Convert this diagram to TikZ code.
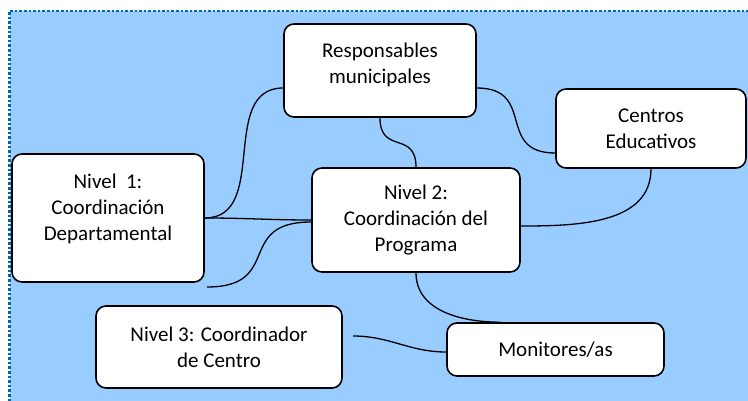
\documentclass[tikz,border=0pt]{standalone}
\usepackage{fontspec}
\setmainfont{Carlito}
\definecolor{fondo}{RGB}{153,204,255}
\definecolor{borde}{RGB}{0,102,170}

\begin{document}
\begin{tikzpicture}[
        x=1pt, y=-1pt,
        every node/.style={font=\fontsize{21pt}{26pt}\selectfont, align=center},
        caja/.style={rectangle, rounded corners=10pt, draw=black, line width=1.6pt, fill=white, inner sep=0pt},
        conexion/.style={draw, line width=1.3pt}
        ]
        \useasboundingbox (0,0) rectangle (748,401);
        \clip (0,0) rectangle (748,401);
        \fill[fondo] (9.5,11) rectangle (760,415);
        \draw[borde, line width=2.6pt, dash pattern=on 2.6pt off 2pt] (9.5,415) -- (9.5,11) -- (760,11);

        \node [caja, minimum width=192pt, minimum height=93pt] (resp) at (380,70.5) {Responsables\\municipales\rule[-15pt]{0pt}{1pt}};
        \node [caja, minimum width=190pt, minimum height=79pt] (cent) at (651,128.5) {Centros\\Educativos};
        \node [caja, minimum width=192pt, minimum height=128pt] (niv1) at (108,218) {Nivel\ \ 1:\\Coordinación\\Departamental\rule[-21pt]{0pt}{1pt}};
        \node [caja, minimum width=208pt, minimum height=104pt] (niv2) at (416,220) {Nivel 2:\\Coordinación del\\Programa};
        \node [caja, minimum width=246pt, minimum height=82pt] (niv3) at (219,347) {Nivel 3: Coordinador\\de Centro};
        \node [caja, minimum width=217pt, minimum height=53pt] (mon) at (555.5,349.5) {Monitores/as};

        % extremos sueltos
        \coordinate (fin1) at (207,287);
        \coordinate (fin3) at (353,336);

        \draw[conexion] (niv1.east) to[out=0, in=180, looseness=1.1] ([yshift=-17.5pt]resp.west);
        \draw[conexion] (niv1.east) to[out=0, in=180] (niv2.west);
        \draw[conexion] ([yshift=-2pt]niv2.west) to[out=180, in=0, looseness=1.6] (fin1);
        \draw[conexion] (resp.south) to[out=-90, in=90, looseness=1.55] (niv2.north);
        \draw[conexion] ([yshift=-17.5pt]resp.east) to[out=0, in=180, looseness=1.5] ([yshift=-24.5pt]cent.west);
        \draw[conexion] (cent.south) to[out=-90, in=0] ([yshift=-6pt]niv2.east);
        \draw[conexion] (niv2.south) to[out=-90, in=180] ([xshift=-55pt]mon.north);
        \draw[conexion] (fin3) to[out=0, in=180] ([yshift=-2.5pt]mon.west);
    \end{tikzpicture}
\end{document}
